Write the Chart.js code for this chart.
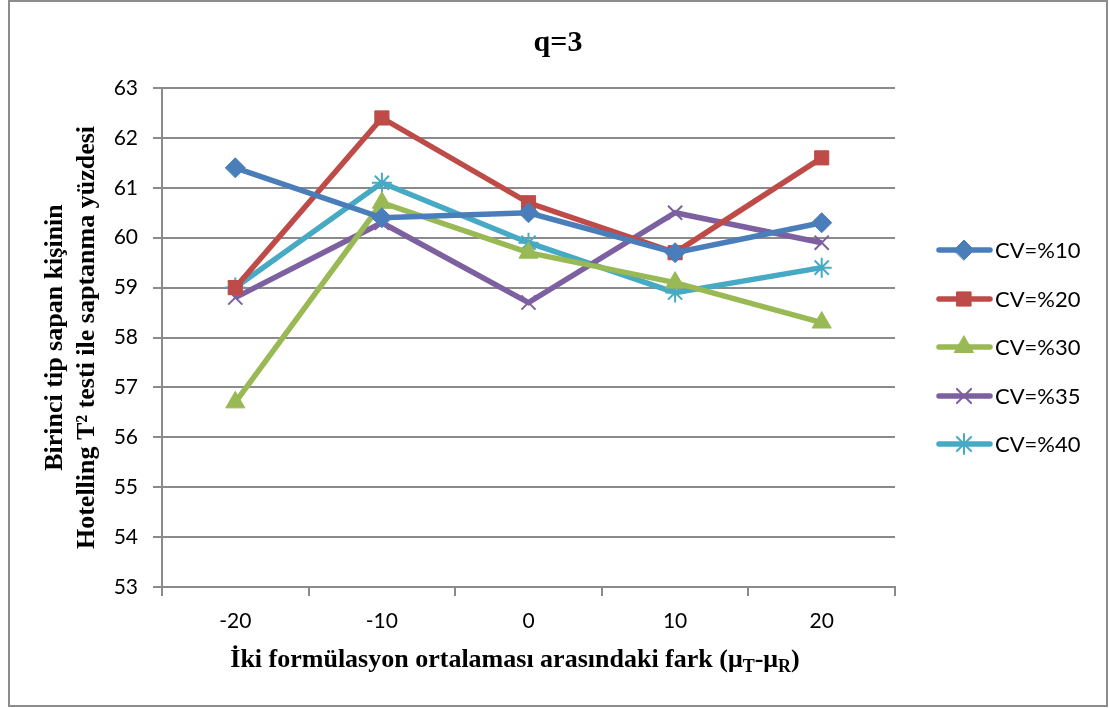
<!DOCTYPE html>
<html>
<head>
<meta charset="utf-8">
<script src="https://cdn.jsdelivr.net/npm/chart.js@4/dist/chart.umd.min.js"></script>
<style>
    html, body { margin: 0; padding: 0; background: #ffffff; }
    #wrap { width: 1109px; height: 708px; position: relative; }
</style>
</head>
<body>
<div id="wrap"><canvas id="q3Chart" width="1109" height="708"></canvas></div>
<script>
// Chart data
const categories = ['-20', '-10', '0', '10', '20'];
const seriesNames = ['CV=%10', 'CV=%20', 'CV=%30', 'CV=%35', 'CV=%40'];
const cv10 = [61.4, 60.4, 60.5, 59.7, 60.3];
const cv20 = [59.0, 62.4, 60.7, 59.7, 61.6];
const cv30 = [56.7, 60.7, 59.7, 59.1, 58.3];
const cv35 = [58.8, 60.3, 58.7, 60.5, 59.9];
const cv40 = [59.0, 61.1, 59.9, 58.9, 59.4];
const yTicks = [53, 54, 55, 56, 57, 58, 59, 60, 61, 62, 63];

// Look of each series (Excel 2007 palette)
const seriesStyles = [
    { color: '#4A7EBB', pointStyle: 'rectRot', radius: 10, pointBorderWidth: 1 },
    { color: '#BE4B48', pointStyle: 'rect', radius: 10, pointBorderWidth: 1 },
    { color: '#98B954', pointStyle: 'triangle', radius: 11, pointBorderWidth: 1 },
    { color: '#7D60A0', pointStyle: 'crossRot', radius: 10, pointBorderWidth: 2 },
    { color: '#46AAC5', pointStyle: 'star', radius: 10, pointBorderWidth: 2 }
];
const seriesValues = [cv10, cv20, cv30, cv35, cv40];

const tickFont = { family: 'Lato, "Open Sans", sans-serif', size: 21 };
const serifBold = '"Liberation Serif", "DejaVu Serif", serif';
const gridGray = '#8A8A8A';

// Simple point drawing, used by the legend
function drawMarker(ctx, style, x, y) {
    ctx.save();
    ctx.fillStyle = style.color;
    ctx.strokeStyle = style.color;
    ctx.lineWidth = style.pointBorderWidth;
    if (Chart.helpers && Chart.helpers.drawPoint) {
        Chart.helpers.drawPoint(ctx, {
            pointStyle: style.pointStyle,
            radius: style.radius,
            rotation: 0,
            borderWidth: style.pointBorderWidth
        }, x, y);
    }
    ctx.restore();
}

// Frame, title, x axis title with subscripts and the legend
const decorPlugin = {
    id: 'decor',
    afterDraw(chart) {
        const ctx = chart.ctx;
        ctx.save();

        // outer frame
        ctx.strokeStyle = '#8C8C8C';
        ctx.lineWidth = 2;
        ctx.strokeRect(9, 1, 1098, 705);

        // title
        ctx.fillStyle = '#000000';
        ctx.font = 'bold 30px ' + serifBold;
        ctx.textAlign = 'center';
        ctx.textBaseline = 'middle';
        ctx.fillText('q=3', 558, 43);

        // x axis title: main text + mu with subscripts
        const mainFont = 'bold 26px ' + serifBold;
        const subFont = 'bold 18px ' + serifBold;
        const parts = [
            { t: 'İki formülasyon ortalaması arasındaki fark (μ', f: mainFont, dy: 0 },
            { t: 'T', f: subFont, dy: 5 },
            { t: '-μ', f: mainFont, dy: 0 },
            { t: 'R', f: subFont, dy: 5 },
            { t: ')', f: mainFont, dy: 0 }
        ];
        let total = 0;
        parts.forEach(p => { ctx.font = p.f; p.w = ctx.measureText(p.t).width; total += p.w; });
        let x = 515 - total / 2;
        ctx.textAlign = 'left';
        ctx.textBaseline = 'alphabetic';
        parts.forEach(p => {
            ctx.font = p.f;
            ctx.fillText(p.t, x, 667 + p.dy);
            x += p.w;
        });

        // legend
        ctx.font = '22px ' + tickFont.family;
        ctx.textBaseline = 'middle';
        const legendY = [250, 299, 347, 396, 444];
        seriesNames.forEach((name, i) => {
            const st = seriesStyles[i];
            const ly = legendY[i];
            ctx.strokeStyle = st.color;
            ctx.lineWidth = 5.5;
            ctx.lineCap = 'round';
            ctx.beginPath();
            ctx.moveTo(939, ly);
            ctx.lineTo(990, ly);
            ctx.stroke();
            drawMarker(ctx, st, 964, ly);
            ctx.fillStyle = '#000000';
            ctx.fillText(name, 995, ly + 1);
        });

        ctx.restore();
    }
};

const datasets = seriesNames.map((name, i) => ({
    label: name,
    data: seriesValues[i],
    borderColor: seriesStyles[i].color,
    backgroundColor: seriesStyles[i].color,
    borderWidth: 5.5,
    pointStyle: seriesStyles[i].pointStyle,
    pointRadius: seriesStyles[i].radius,
    pointBorderWidth: seriesStyles[i].pointBorderWidth,
    pointBackgroundColor: seriesStyles[i].color,
    pointBorderColor: seriesStyles[i].color,
    tension: 0,
    fill: false
}));

const ctx = document.getElementById('q3Chart').getContext('2d');
const q3Chart = new Chart(ctx, {
    type: 'line',
    data: { labels: categories, datasets: datasets },
    options: {
        responsive: false,
        animation: false,
        layout: {
            padding: { top: 88, right: 214, bottom: 0, left: 0 }
        },
        plugins: {
            legend: { display: false },
            tooltip: { enabled: false }
        },
        scales: {
            x: {
                offset: true,
                afterFit: function(scale) { scale.height = 121; },
                grid: {
                    offset: true,
                    drawOnChartArea: false,
                    drawTicks: true,
                    tickLength: 9,
                    color: gridGray,
                    lineWidth: 2
                },
                border: { display: true, color: gridGray, width: 2 },
                ticks: { color: '#000000', font: tickFont, padding: 13, maxRotation: 0 }
            },
            y: {
                min: 53,
                max: 63,
                afterFit: function(scale) { scale.width = 162; },
                afterBuildTicks: function(scale) {
                    scale.ticks = yTicks.map(v => ({ value: v }));
                },
                grid: {
                    color: gridGray,
                    lineWidth: 2,
                    drawTicks: true,
                    tickLength: 9
                },
                border: { display: true, color: gridGray, width: 2 },
                ticks: { color: '#000000', font: tickFont, padding: 15 },
                title: {
                    display: true,
                    text: ['Birinci tip sapan kişinin', 'Hotelling T² testi ile saptanma yüzdesi'],
                    color: '#000000',
                    font: { family: serifBold, size: 26, weight: 'bold', lineHeight: 1.23 },
                    padding: { top: 39, bottom: 0 }
                }
            }
        }
    },
    plugins: [decorPlugin]
});
</script>
</body>
</html>
